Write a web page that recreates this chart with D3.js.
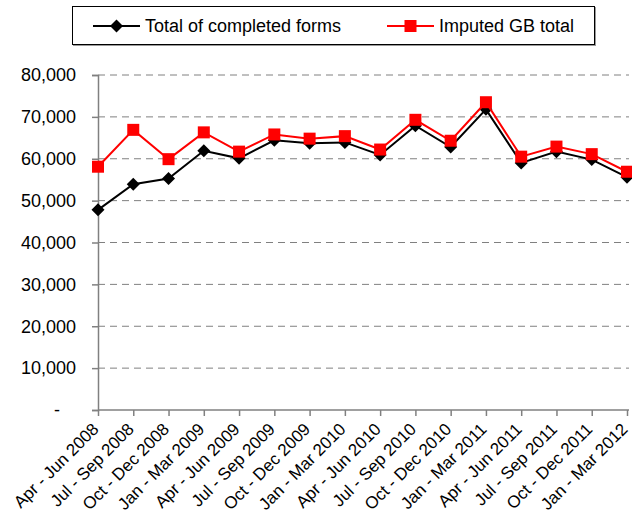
<!DOCTYPE html>
<meta charset="utf-8">
<script src="https://d3js.org/d3.v7.min.js"></script>
<style>
  html, body { margin: 0; padding: 0; background: #fff; }
  svg { font-family: 'Liberation Sans', Arial, sans-serif; }
</style>
<body>
<div id="chart"></div>
<script>

var quarters = ["Apr - Jun 2008", "Jul - Sep 2008", "Oct - Dec 2008", "Jan - Mar 2009",
  "Apr - Jun 2009", "Jul - Sep 2009", "Oct - Dec 2009", "Jan - Mar 2010",
  "Apr - Jun 2010", "Jul - Sep 2010", "Oct - Dec 2010", "Jan - Mar 2011",
  "Apr - Jun 2011", "Jul - Sep 2011", "Oct - Dec 2011", "Jan - Mar 2012"]

var completedForms = [47800, 53900, 55300, 61900, 60100, 64400, 63700, 63900,
  60900, 67900, 62800, 71800, 59000, 61700, 59800, 55600]

var imputedGB = [58100, 66900, 59900, 66300, 61700, 65800, 64800, 65400,
  62200, 69300, 64300, 73500, 60500, 62900, 61100, 56900]

var yTicks = [0, 10000, 20000, 30000, 40000, 50000, 60000, 70000, 80000]

var width = 632,
    height = 513,
    margin = {top: 75, right: 5, bottom: 103, left: 98}

var font = "'Liberation Sans', Arial, sans-serif"

var svg = d3.select("#chart")
  .append("svg")
    .attr("width", width)
    .attr("height", height)

var x = d3.scalePoint()
  .domain(quarters)
  .range([margin.left, 627])

var y = d3.scaleLinear()
  .domain([0, 80000])
  .range([height - margin.bottom, margin.top])

var fmt = d3.format(",")

// gridlines
svg.selectAll(".grid")
  .data(yTicks.filter(function(d) { return d > 0 }))
  .enter()
  .append("line")
    .attr("x1", margin.left)
    .attr("x2", 629)
    .attr("y1", function(d) { return y(d) })
    .attr("y2", function(d) { return y(d) })
    .attr("stroke", "#808080")
    .attr("stroke-width", 1)
    .attr("stroke-dasharray", "7,5")

// y axis
var yAxis = svg.append("g")
  .attr("transform", "translate(" + margin.left + ",0)")
  .call(d3.axisLeft(y).tickValues(yTicks).tickSize(6).tickPadding(16)
    .tickFormat(function(d) { return d === 0 ? "-" : fmt(d) }))
yAxis.select(".domain").attr("stroke", "#808080").attr("stroke-width", 1.5)
yAxis.selectAll(".tick line").attr("stroke", "#808080").attr("stroke-width", 1.5)
yAxis.selectAll("text").attr("font-size", 18).attr("fill", "#000")
  .attr("font-family", font)
yAxis.selectAll(".tick").filter(function(d) { return d === 0 })
  .select("text").attr("x", -38)

// x axis
var xAxis = svg.append("g")
  .attr("transform", "translate(0," + y(0) + ")")
  .call(d3.axisBottom(x).tickSize(6).tickSizeOuter(0))
xAxis.select(".domain").attr("stroke", "#808080").attr("stroke-width", 1.5)
  .attr("d", "M" + margin.left + ",0H629")
xAxis.selectAll(".tick line").attr("stroke", "#808080").attr("stroke-width", 1.5)
xAxis.selectAll("text")
  .attr("font-size", 17)
  .attr("fill", "#000")
  .attr("font-family", font)
  .attr("text-anchor", "end")
  .attr("dy", "0.35em")
  .attr("transform", "translate(-3,16) rotate(-45)")
  .attr("y", 0)
  .attr("x", 0)

var line = d3.line()
  .x(function(d, i) { return x(quarters[i]) })
  .y(function(d) { return y(d) })

// black series
svg.append("path")
  .datum(completedForms)
  .attr("d", line)
  .attr("fill", "none")
  .attr("stroke", "#000")
  .attr("stroke-width", 2)

svg.selectAll(".diamond")
  .data(completedForms)
  .enter()
  .append("path")
    .attr("d", "M0,-6.5L6.5,0L0,6.5L-6.5,0Z")
    .attr("transform", function(d, i) { return "translate(" + x(quarters[i]) + "," + y(d) + ")" })
    .attr("fill", "#000")

// red series
svg.append("path")
  .datum(imputedGB)
  .attr("d", line)
  .attr("fill", "none")
  .attr("stroke", "#ff0000")
  .attr("stroke-width", 2)

svg.selectAll(".square")
  .data(imputedGB)
  .enter()
  .append("rect")
    .attr("x", function(d, i) { return x(quarters[i]) - 6 })
    .attr("y", function(d) { return y(d) - 6 })
    .attr("width", 12)
    .attr("height", 12)
    .attr("fill", "#ff0000")

// legend
var legend = svg.append("g").attr("font-family", font)
legend.append("rect")
  .attr("x", 73.5).attr("y", 7.5).attr("width", 522).attr("height", 38)
  .attr("fill", "none").attr("stroke", "#999").attr("stroke-width", 1)
legend.append("rect")
  .attr("x", 72.5).attr("y", 6.5).attr("width", 522).attr("height", 38)
  .attr("fill", "#fff").attr("stroke", "#000").attr("stroke-width", 1)

legend.append("line")
  .attr("x1", 93).attr("x2", 140).attr("y1", 26).attr("y2", 26)
  .attr("stroke", "#000").attr("stroke-width", 2)
legend.append("path")
  .attr("d", "M0,-6.5L6.5,0L0,6.5L-6.5,0Z")
  .attr("transform", "translate(116.5,26)")
  .attr("fill", "#000")
legend.append("text")
  .attr("x", 145).attr("y", 26).attr("dy", "0.35em")
  .attr("font-size", 18)
  .text("Total of completed forms")

legend.append("line")
  .attr("x1", 387).attr("x2", 434).attr("y1", 26).attr("y2", 26)
  .attr("stroke", "#ff0000").attr("stroke-width", 2)
legend.append("rect")
  .attr("x", 404.5).attr("y", 20).attr("width", 12).attr("height", 12)
  .attr("fill", "#ff0000")
legend.append("text")
  .attr("x", 439).attr("y", 26).attr("dy", "0.35em")
  .attr("font-size", 18)
  .text("Imputed GB total")

</script>
</body>
